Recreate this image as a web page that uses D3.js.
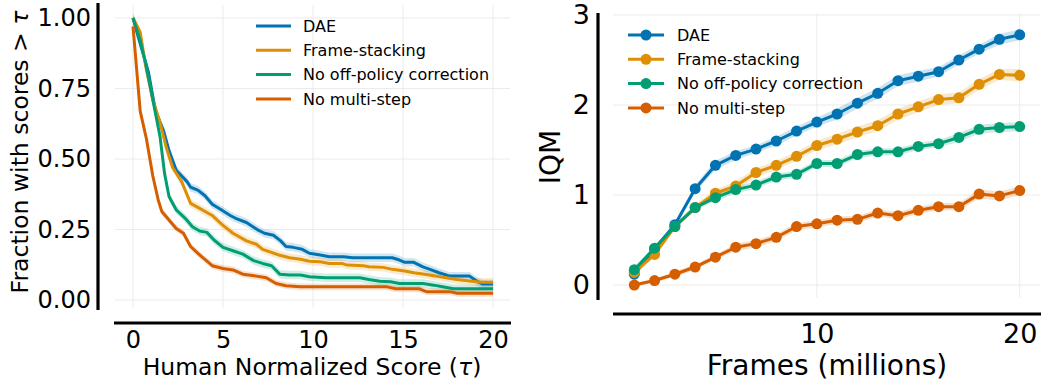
<!DOCTYPE html>
<html>
<head>
<meta charset="utf-8">
<script src="https://cdn.jsdelivr.net/npm/d3@7.9.0/dist/d3.min.js"></script>
<style>
  body { margin: 0; background: #fff; }
  svg { font-family: "DejaVu Sans", sans-serif; }
</style>
</head>
<body>
<svg id="chart" width="1041" height="381"></svg>
<script>
// series names + colours (seaborn colorblind)
const seriesNames = ['DAE', 'Frame-stacking', 'No off-policy correction', 'No multi-step'];
const colors = ['#0173b2', '#de8f05', '#029e73', '#d55e00'];

// left panel: performance profiles, [tau, fraction]
const profileDAE = [[0,1.00],[0.3,0.93],[0.85,0.81],[1.25,0.67],[1.7,0.60],[2.0,0.53],[2.4,0.46],[3.0,0.42],[3.2,0.40],[3.6,0.39],[4.0,0.37],[4.4,0.34],[4.9,0.32],[5.4,0.30],[5.7,0.29],[6.3,0.275],[6.9,0.25],[7.3,0.237],[7.8,0.23],[8.2,0.21],[8.5,0.19],[8.9,0.187],[9.4,0.18],[9.8,0.166],[10.4,0.16],[10.9,0.154],[11.7,0.154],[12.2,0.15],[14.4,0.15],[14.8,0.142],[15.1,0.134],[15.6,0.134],[16.1,0.118],[16.5,0.109],[17.0,0.097],[17.6,0.085],[18.7,0.085],[19.1,0.067],[19.4,0.057],[20,0.057]];
const profileFrame = [[0,1.0],[0.4,0.95],[0.7,0.83],[1.1,0.71],[1.5,0.63],[1.85,0.54],[2.2,0.47],[2.7,0.42],[3.2,0.343],[3.7,0.325],[4.4,0.30],[4.9,0.27],[5.55,0.237],[6.3,0.21],[6.85,0.198],[7.2,0.18],[8.1,0.16],[8.7,0.15],[9.3,0.145],[9.8,0.138],[10.4,0.136],[10.9,0.13],[11.6,0.13],[11.9,0.124],[12.8,0.122],[13.1,0.118],[13.9,0.116],[14.4,0.109],[15.1,0.103],[15.6,0.097],[16.3,0.091],[16.7,0.086],[17.4,0.079],[18.0,0.073],[18.8,0.067],[19.4,0.063],[20,0.063]];
const profileNoOff = [[0,1.0],[0.4,0.92],[0.7,0.84],[1.1,0.71],[1.5,0.58],[1.75,0.45],[2.0,0.367],[2.4,0.32],[2.9,0.29],[3.3,0.26],[3.7,0.245],[4.1,0.24],[4.5,0.213],[5.0,0.187],[5.55,0.175],[6.1,0.163],[6.7,0.14],[7.2,0.13],[7.7,0.122],[8.15,0.092],[8.7,0.089],[9.3,0.089],[9.8,0.083],[10.7,0.079],[12.6,0.079],[13.1,0.073],[13.7,0.067],[14.3,0.065],[14.8,0.059],[16.1,0.059],[16.7,0.053],[17.2,0.047],[17.8,0.04],[20,0.04]];
const profileNoMulti = [[0,0.97],[0.4,0.67],[0.75,0.57],[1.1,0.44],[1.4,0.355],[1.6,0.314],[2.0,0.284],[2.4,0.254],[2.8,0.237],[3.2,0.19],[3.7,0.16],[4.4,0.122],[5.0,0.112],[5.55,0.107],[6.1,0.092],[6.85,0.085],[7.4,0.079],[7.95,0.059],[8.5,0.051],[9.3,0.047],[14.1,0.047],[14.6,0.04],[15.9,0.04],[16.3,0.03],[17.6,0.03],[18.0,0.024],[20,0.024]];
const profileBand = [0.015, 0.015, 0.015, 0.012];

// right panel: IQM vs frames (millions)
const frames = [1,2,3,4,5,6,7,8,9,10,11,12,13,14,15,16,17,18,19,20];
const iqmDAE = [0.12,0.40,0.67,1.07,1.33,1.44,1.51,1.60,1.71,1.81,1.90,2.02,2.13,2.27,2.32,2.37,2.50,2.62,2.73,2.78];
const iqmFrame = [0.14,0.34,0.65,0.86,1.02,1.10,1.25,1.33,1.43,1.55,1.62,1.70,1.77,1.90,1.98,2.06,2.08,2.23,2.34,2.33];
const iqmNoOff = [0.17,0.41,0.65,0.86,0.97,1.06,1.11,1.20,1.23,1.35,1.35,1.45,1.48,1.48,1.54,1.57,1.64,1.73,1.75,1.76];
const iqmNoMulti = [0.00,0.05,0.12,0.20,0.31,0.42,0.46,0.53,0.65,0.68,0.72,0.73,0.80,0.77,0.83,0.87,0.87,1.01,0.99,1.05];
const ciDAE = [0.03,0.03,0.03,0.04,0.05,0.05,0.04,0.05,0.05,0.05,0.06,0.06,0.06,0.06,0.06,0.05,0.05,0.05,0.06,0.06];
const ciFrame = [0.03,0.03,0.03,0.04,0.04,0.05,0.05,0.05,0.05,0.05,0.06,0.06,0.06,0.06,0.06,0.06,0.06,0.06,0.06,0.07];
const ciNoOff = [0.03,0.03,0.03,0.03,0.04,0.04,0.04,0.04,0.04,0.04,0.04,0.04,0.04,0.04,0.04,0.04,0.05,0.05,0.05,0.05];
const ciNoMulti = [0.02,0.02,0.03,0.03,0.03,0.04,0.04,0.04,0.04,0.04,0.04,0.04,0.04,0.04,0.04,0.04,0.04,0.05,0.05,0.05];

const profileTicksX = [0, 5, 10, 15, 20];
const profileTicksY = [0, 0.25, 0.5, 0.75, 1.0];
const iqmTicksX = [10, 20];
const iqmTicksY = [0, 1, 2, 3];

const svg = d3.select('#chart');
const gridColor = '#ebebeb';

function drawGrid(g, x, y, xt, yt) {
  const [x0, x1] = x.range();
  const [y0, y1] = y.range();
  g.selectAll('.gx').data(xt).join('line')
    .attr('x1', d => x(d)).attr('x2', d => x(d))
    .attr('y1', y0).attr('y2', y1)
    .attr('stroke', gridColor).attr('stroke-width', 1);
  g.selectAll('.gy').data(yt).join('line')
    .attr('x1', x0).attr('x2', x1)
    .attr('y1', d => y(d)).attr('y2', d => y(d))
    .attr('stroke', gridColor).attr('stroke-width', 1);
}

// ---------- left panel ----------
const xL = d3.scaleLinear().domain([-1, 20.94]).range([115, 510]);
const yL = d3.scaleLinear().domain([-0.028, 1.046]).range([308, 5]);

const left = svg.append('g');
drawGrid(left.append('g'), xL, yL, profileTicksX, profileTicksY);

const profiles = [profileDAE, profileFrame, profileNoOff, profileNoMulti];
const bandL = (w) => d3.area().x(d => xL(d[0])).y0(d => yL(d[1] - w)).y1(d => yL(d[1] + w));
const lineL = d3.line().x(d => xL(d[0])).y(d => yL(d[1]));

profiles.forEach((p, i) => {
  left.append('path').attr('d', bandL(profileBand[i])(p))
    .attr('fill', colors[i]).attr('fill-opacity', 0.18);
});
profiles.forEach((p, i) => {
  left.append('path').attr('d', lineL(p))
    .attr('fill', 'none').attr('stroke', colors[i]).attr('stroke-width', 3)
    .attr('stroke-linejoin', 'round');
});

// spines (offset)
left.append('line').attr('x1', 98).attr('x2', 98).attr('y1', 3).attr('y2', 310)
  .attr('stroke', '#000').attr('stroke-width', 3.2);
left.append('line').attr('x1', 114).attr('x2', 511).attr('y1', 323).attr('y2', 323)
  .attr('stroke', '#000').attr('stroke-width', 3.2);

left.append('g').attr('transform', 'translate(98,0)')
  .call(d3.axisLeft(yL).tickValues(profileTicksY).tickFormat(d3.format('.2f')).tickSize(0).tickPadding(7))
  .call(g => g.select('.domain').remove())
  .selectAll('text').attr('font-size', 24).attr('font-family', 'DejaVu Sans').attr('fill', '#000');

left.append('g').attr('transform', 'translate(0,323)')
  .call(d3.axisBottom(xL).tickValues(profileTicksX).tickSize(0).tickPadding(8))
  .call(g => g.select('.domain').remove())
  .selectAll('text').attr('font-size', 24).attr('font-family', 'DejaVu Sans').attr('fill', '#000');

const xlabL = left.append('text').attr('x', 312).attr('y', 375).attr('text-anchor', 'middle')
  .attr('font-size', 23.5);
xlabL.append('tspan').text('Human Normalized Score (');
xlabL.append('tspan').attr('font-style', 'italic').text('τ');
xlabL.append('tspan').text(')');

const ylabL = left.append('text').attr('transform', 'translate(28,152) rotate(-90)').attr('text-anchor', 'middle')
  .attr('font-size', 23.5);
ylabL.append('tspan').text('Fraction with scores > ');
ylabL.append('tspan').attr('font-style', 'italic').text('τ');

// legend
const legL = left.append('g');
seriesNames.forEach((name, i) => {
  const yy = 26 + i * 24.3;
  legL.append('line').attr('x1', 256).attr('x2', 291).attr('y1', yy).attr('y2', yy)
    .attr('stroke', colors[i]).attr('stroke-width', 3);
  legL.append('text').attr('x', 303).attr('y', yy).attr('dy', '0.35em')
    .attr('font-size', 16).text(name);
});

// ---------- right panel ----------
const xR = d3.scaleLinear().domain([-0.05, 21.0]).range([613, 1040]);
const yR = d3.scaleLinear().domain([-0.144, 3.022]).range([298, 13]);

const right = svg.append('g');
drawGrid(right.append('g'), xR, yR, iqmTicksX, iqmTicksY);

const iqms = [iqmDAE, iqmFrame, iqmNoOff, iqmNoMulti];
const cis = [ciDAE, ciFrame, ciNoOff, ciNoMulti];

iqms.forEach((vals, i) => {
  const pts = frames.map((f, j) => ({ f, v: vals[j], c: cis[i][j] }));
  right.append('path')
    .attr('d', d3.area().x(d => xR(d.f)).y0(d => yR(d.v - d.c)).y1(d => yR(d.v + d.c))(pts))
    .attr('fill', colors[i]).attr('fill-opacity', 0.2);
});
iqms.forEach((vals, i) => {
  const pts = frames.map((f, j) => ({ f, v: vals[j] }));
  const g = right.append('g');
  g.append('path').attr('d', d3.line().x(d => xR(d.f)).y(d => yR(d.v))(pts))
    .attr('fill', 'none').attr('stroke', colors[i]).attr('stroke-width', 3)
    .attr('stroke-linejoin', 'round');
  g.selectAll('circle').data(pts).join('circle')
    .attr('cx', d => xR(d.f)).attr('cy', d => yR(d.v)).attr('r', 5.5)
    .attr('fill', colors[i]);
});

right.append('line').attr('x1', 598).attr('x2', 598).attr('y1', 13).attr('y2', 300)
  .attr('stroke', '#000').attr('stroke-width', 3.2);
right.append('line').attr('x1', 613).attr('x2', 1041).attr('y1', 314).attr('y2', 314)
  .attr('stroke', '#000').attr('stroke-width', 3.2);

right.append('g').attr('transform', 'translate(598,0)')
  .call(d3.axisLeft(yR).tickValues(iqmTicksY).tickFormat(d3.format('d')).tickSize(0).tickPadding(8))
  .call(g => g.select('.domain').remove())
  .selectAll('text').attr('font-size', 27).attr('font-family', 'DejaVu Sans').attr('fill', '#000');

right.append('g').attr('transform', 'translate(0,314)')
  .call(d3.axisBottom(xR).tickValues(iqmTicksX).tickSize(0).tickPadding(10))
  .call(g => g.select('.domain').remove())
  .selectAll('text').attr('font-size', 27).attr('font-family', 'DejaVu Sans').attr('fill', '#000');

right.append('text').attr('x', 827).attr('y', 375).attr('text-anchor', 'middle')
  .attr('font-size', 28).text('Frames (millions)');
right.append('text').attr('transform', 'translate(560,157) rotate(-90)').attr('text-anchor', 'middle')
  .attr('font-size', 28).text('IQM');

const legR = right.append('g');
seriesNames.forEach((name, i) => {
  const yy = 35 + i * 24.3;
  legR.append('line').attr('x1', 628).attr('x2', 664).attr('y1', yy).attr('y2', yy)
    .attr('stroke', colors[i]).attr('stroke-width', 3);
  legR.append('circle').attr('cx', 646).attr('cy', yy).attr('r', 5.5).attr('fill', colors[i]);
  legR.append('text').attr('x', 677).attr('y', yy).attr('dy', '0.35em')
    .attr('font-size', 16).text(name);
});
</script>
</body>
</html>
